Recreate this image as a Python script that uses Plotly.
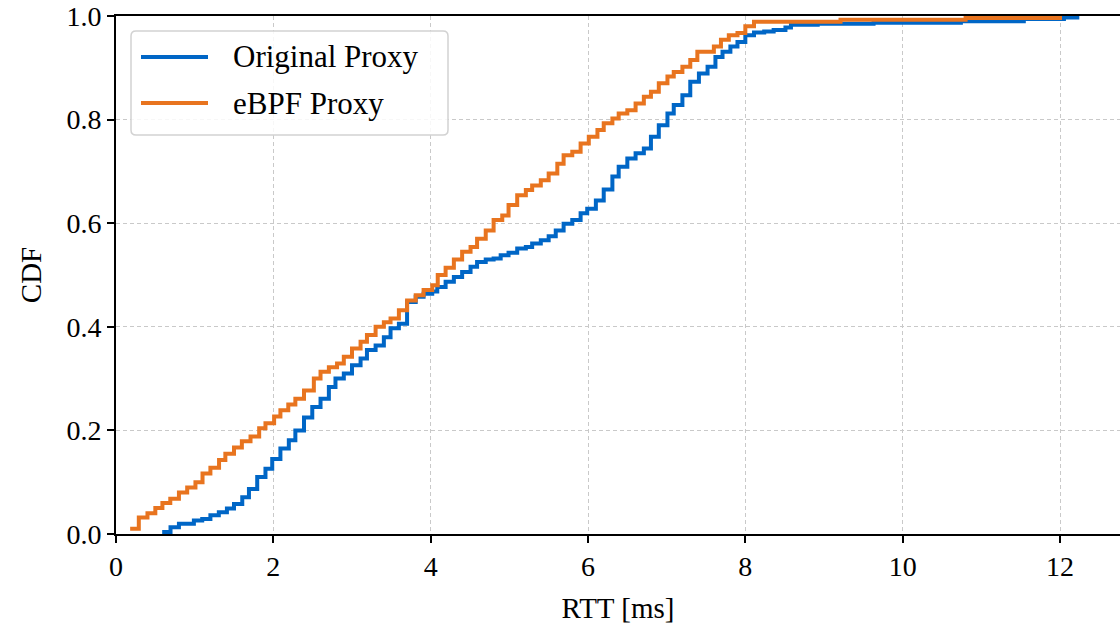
import plotly.graph_objects as go

# ---- data ----
orig_rtt = [0.587, 0.693, 0.80, 0.99, 1.096, 1.20, 1.307, 1.41, 1.50, 1.605, 1.69, 1.795, 1.90,
            1.986, 2.09, 2.197, 2.28, 2.39, 2.495, 2.60, 2.706, 2.79, 2.896, 3.00, 3.109, 3.19,
            3.30, 3.405, 3.49, 3.596, 3.70, 3.81, 3.91, 4.02, 4.084, 4.19, 4.295, 4.40, 4.507,
            4.59, 4.70, 4.80, 4.89, 4.99, 5.10, 5.21, 5.29, 5.40, 5.50, 5.59, 5.69, 5.80, 5.906,
            5.99, 6.10, 6.20, 6.31, 6.39, 6.50, 6.605, 6.71, 6.80, 6.90, 7.01, 7.09, 7.20, 7.30,
            7.41, 7.52, 7.62, 7.71, 7.81, 7.90, 8.00, 8.11, 8.24, 8.36, 8.51, 8.58, 8.92, 9.63,
            10.74, 11.54, 12.05, 12.22]
orig_cdf = [0.004, 0.013, 0.020, 0.026, 0.029, 0.036, 0.042, 0.049, 0.058, 0.071, 0.087, 0.110, 0.126,
            0.145, 0.165, 0.181, 0.200, 0.225, 0.245, 0.261, 0.284, 0.300, 0.310, 0.326, 0.339, 0.355,
            0.364, 0.380, 0.397, 0.406, 0.448, 0.458, 0.464, 0.468, 0.477, 0.487, 0.496, 0.506, 0.516,
            0.525, 0.530, 0.532, 0.538, 0.543, 0.551, 0.554, 0.561, 0.567, 0.575, 0.586, 0.599, 0.606, 0.619,
            0.628, 0.644, 0.665, 0.690, 0.709, 0.725, 0.735, 0.744, 0.767, 0.789, 0.812, 0.828, 0.847, 0.873,
            0.889, 0.902, 0.921, 0.931, 0.941, 0.950, 0.963, 0.968, 0.970, 0.973, 0.978, 0.983, 0.985, 0.987,
            0.990, 0.994, 0.997, 1.000]

ebpf_rtt = [0.18, 0.29, 0.40, 0.50, 0.59, 0.69, 0.80, 0.905, 1.01, 1.10, 1.20, 1.31, 1.39, 1.50,
            1.60, 1.71, 1.82, 1.90, 2.01, 2.09, 2.19, 2.28, 2.39, 2.515, 2.60, 2.706, 2.81, 2.896,
            3.00, 3.109, 3.19, 3.30, 3.405, 3.49, 3.596, 3.70, 3.81, 3.91, 4.02, 4.09, 4.19, 4.295,
            4.40, 4.507, 4.59, 4.70, 4.80, 4.91, 4.99, 5.10, 5.21, 5.29, 5.40, 5.50, 5.61, 5.69,
            5.80, 5.906, 6.01, 6.12, 6.20, 6.31, 6.39, 6.50, 6.605, 6.71, 6.80, 6.90, 7.01, 7.09,
            7.20, 7.30, 7.39, 7.60, 7.69, 7.79, 7.90, 8.00, 8.11, 9.21, 10.8, 12.0]
ebpf_cdf = [0.010, 0.032, 0.040, 0.050, 0.060, 0.068, 0.080, 0.090, 0.100, 0.117, 0.128, 0.143, 0.155, 0.167,
            0.179, 0.188, 0.204, 0.214, 0.227, 0.239, 0.250, 0.261, 0.277, 0.300, 0.313, 0.322, 0.329, 0.342,
            0.358, 0.371, 0.384, 0.400, 0.409, 0.416, 0.432, 0.451, 0.461, 0.471, 0.480, 0.500, 0.514, 0.530,
            0.545, 0.554, 0.570, 0.586, 0.606, 0.615, 0.635, 0.654, 0.664, 0.673, 0.683, 0.696, 0.715, 0.731,
            0.738, 0.754, 0.767, 0.780, 0.793, 0.802, 0.812, 0.818, 0.831, 0.844, 0.854, 0.870, 0.883, 0.892,
            0.902, 0.915, 0.931, 0.941, 0.954, 0.963, 0.967, 0.980, 0.989, 0.993, 0.996, 1.000]

x_ticks = [0, 2, 4, 6, 8, 10, 12]
y_ticks = [0.0, 0.2, 0.4, 0.6, 0.8, 1.0]
series_names = ["Original Proxy", "eBPF Proxy"]
colors = ["#0066C6", "#E8741F"]

W, H = 1120, 630
ML, MR, MT, MB = 116, 0, 16, 96
PW, PH = W - ML - MR, H - MT - MB
X_PER_PX = 12.0 / (1060 - 116)
x_max = PW * X_PER_PX

FONT = "Liberation Serif"
LW = 4.0

fig = go.Figure()
for xs, ys, name, c in [(orig_rtt, orig_cdf, series_names[0], colors[0]),
                        (ebpf_rtt, ebpf_cdf, series_names[1], colors[1])]:
    fig.add_trace(go.Scatter(x=xs, y=ys, mode="lines", name=name, line_shape="hv",
                             line=dict(color=c, width=LW), showlegend=False))


def px2paper(px, py):
    return (px - ML) / PW, (H - MB - py) / PH


def rounded_rect(x0, y0, x1, y1, r):
    def P(px, py):
        a, b = px2paper(px, py)
        return f"{a:.5f},{b:.5f}"
    return (f"M {P(x0 + r, y0)} L {P(x1 - r, y0)} Q {P(x1, y0)} {P(x1, y0 + r)} "
            f"L {P(x1, y1 - r)} Q {P(x1, y1)} {P(x1 - r, y1)} L {P(x0 + r, y1)} "
            f"Q {P(x0, y1)} {P(x0, y1 - r)} L {P(x0, y0 + r)} Q {P(x0, y0)} {P(x0 + r, y0)} Z")


shapes = [dict(type="path", xref="paper", yref="paper", path=rounded_rect(131, 31, 448, 135, 5),
               fillcolor="rgba(255,255,255,0.85)", line=dict(color="#d2d2d2", width=1.5), layer="above")]
annotations = []
for i, (name, c) in enumerate(zip(series_names, colors)):
    py = 57 + 46 * i
    a0, b0 = px2paper(141, py)
    a1, _ = px2paper(208, py)
    shapes.append(dict(type="line", xref="paper", yref="paper", x0=a0, x1=a1, y0=b0, y1=b0,
                       line=dict(color=c, width=LW), layer="above"))
    ta, tb = px2paper(231, py)
    annotations.append(dict(xref="paper", yref="paper", x=ta, y=tb, text=name, showarrow=False,
                            xanchor="left", yanchor="middle",
                            font=dict(family=FONT, size=31, color="black")))

axis_common = dict(showgrid=True, gridcolor="#c9c9c9", gridwidth=1, griddash="4px,3px",
                   showline=True, linecolor="black", linewidth=1.6, ticks="outside", ticklen=7,
                   tickwidth=1.6, tickcolor="black", zeroline=False,
                   tickfont=dict(family=FONT, size=28, color="black"))

fig.update_layout(
    width=W, height=H, margin=dict(l=ML, r=MR, t=MT, b=MB, autoexpand=False),
    plot_bgcolor="white", paper_bgcolor="white",
    shapes=shapes, annotations=annotations,
    xaxis=dict(range=[0, x_max], tickvals=x_ticks, ticktext=[str(v) for v in x_ticks],
               mirror=True, automargin=False,
               title=dict(text="RTT [ms]", font=dict(family=FONT, size=29, color="black"), standoff=16),
               **axis_common),
    yaxis=dict(range=[0, 1], tickvals=y_ticks, ticktext=[f"{v:.1f}" for v in y_ticks],
               automargin=False,
               title=dict(text="CDF", font=dict(family=FONT, size=29, color="black"), standoff=16),
               **axis_common),
)

fig.write_html("out.html")
